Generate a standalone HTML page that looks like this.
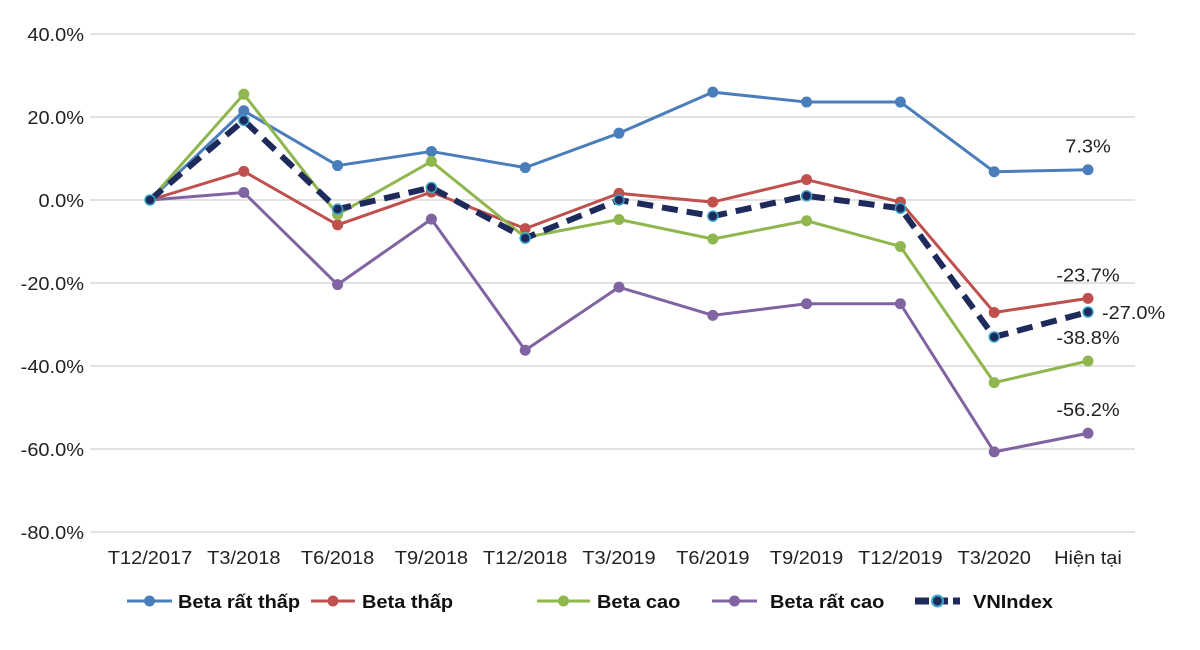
<!DOCTYPE html>
<html><head><meta charset="utf-8"><style>
body{margin:0;background:#fff;}
svg{display:block;font-family:"Liberation Sans",Arial,sans-serif;}
</style></head><body>
<svg id="c" width="1200" height="650"></svg>
<script>
const categories=["T12/2017","T3/2018","T6/2018","T9/2018","T12/2018","T3/2019","T6/2019","T9/2019","T12/2019","T3/2020","Hiện tại"];
const yTicks=[40,20,0,-20,-40,-60,-80];
const betaRatThap=[0,21.5,8.3,11.7,7.8,16.1,26,23.6,23.6,6.8,7.3];
const betaThap=[0,6.9,-6,1.9,-6.9,1.6,-0.5,4.9,-0.5,-27.1,-23.7];
const betaCao=[0,25.5,-3.5,9.3,-9,-4.7,-9.4,-5,-11.2,-44,-38.8];
const betaRatCao=[0,1.8,-20.4,-4.6,-36.2,-21,-27.8,-25,-25,-60.7,-56.2];
const vnIndex=[0,19.2,-2.2,3,-9.2,0,-3.9,1,-2,-33,-27];
const seriesNames=["Beta rất thấp","Beta thấp","Beta cao","Beta rất cao","VNIndex"];
const endLabels=["7.3%","-23.7%","-38.8%","-56.2%","-27.0%"];

const svg=document.getElementById('c');
const NS="http://www.w3.org/2000/svg";
function X(i){return 150+i*(1088-150)/(categories.length-1);}
function Y(v){return 200-v*(332/80);}
function mk(t,a,p){const e=document.createElementNS(NS,t);for(const k in a)e.setAttribute(k,a[k]);(p||svg).appendChild(e);return e;}
function wide(t,scale){const w=t.getComputedTextLength();t.setAttribute('textLength',w*scale);t.setAttribute('lengthAdjust','spacingAndGlyphs');}
yTicks.forEach(t=>{
  const l=mk('line',{x1:90,x2:1135,y1:Y(t),y2:Y(t),stroke:'#d9d9d9','stroke-width':1.5});
  
  
  const tx=mk('text',{x:84,y:Y(t)+7,'text-anchor':'end','font-size':18.5,fill:'#222'});
  tx.textContent=t.toFixed(1)+'%';
  
  
  wide(tx,1.08);
});
categories.forEach((c,i)=>{
  const tx=mk('text',{x:X(i),y:564,'text-anchor':'middle','font-size':18.5,fill:'#222'});
  tx.textContent=c;
  
  
  wide(tx,1.08);
});
const all=[betaRatThap,betaThap,betaCao,betaRatCao,vnIndex];
const colors=['#4a7ebb','#c0504d','#8fb74e','#8064a2','#1f2a5c'];
const keys=['beta-rat-thap','beta-thap','beta-cao','beta-rat-cao','vnindex'];
all.forEach((d,s)=>{
  const g=mk('g',{});
  
  
  const pts=d.map((v,i)=>X(i)+','+Y(v)).join(' ');
  const isVN=s===4;
  const pl=mk('polyline',{points:pts,fill:'none',stroke:colors[s],'stroke-width':isVN?6:3,'stroke-dasharray':isVN?'16,9':'none','stroke-linejoin':'round'},g);
  
  
  d.forEach((v,i)=>{
    const c=mk('circle',{cx:X(i),cy:Y(v),r:isVN?5:5.5,fill:colors[s],stroke:isVN?'#3aa6c8':'none','stroke-width':1.5},g);
    
    
  });
  const last=d[d.length-1];
  const lx=isVN?X(10)+14:X(10);
  const ly=isVN?Y(last)+7:Y(last)-17;
  const t=mk('text',{x:lx,y:ly,'text-anchor':isVN?'start':'middle','font-size':18.5,fill:'#222'});
  t.textContent=endLabels[s];
  
  
  wide(t,1.08);
});
const txtX=[178,362,597,770,973];
const lineX2=[172,355,590,757,960];
const legStart=[127,311,537,712,915];
seriesNames.forEach((n,s)=>{
  const g=mk('g',{});
  
  
  const isVN=s===4;
  mk('line',{x1:legStart[s],x2:lineX2[s],y1:601,y2:601,stroke:colors[s],'stroke-width':isVN?7:3,'stroke-dasharray':isVN?'14,5':'none'},g);
  mk('circle',{cx:(legStart[s]+lineX2[s])/2,cy:601,r:5.5,fill:colors[s],stroke:isVN?'#3aa6c8':'none','stroke-width':2},g);
  const t=mk('text',{x:txtX[s],y:608,'font-size':18.5,'font-weight':'bold',fill:'#111'},g);
  t.textContent=n;
  wide(t,1.08);
});
</script>
</body></html>
